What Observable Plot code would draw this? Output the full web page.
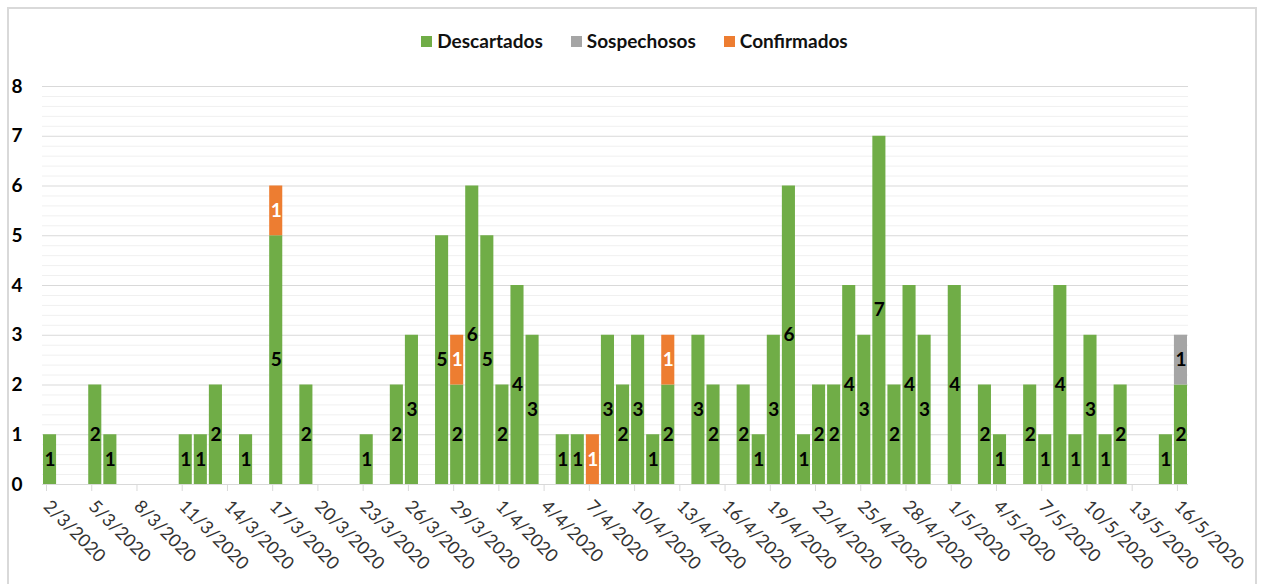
<!DOCTYPE html>
<html><head><meta charset="utf-8">
<script src="https://cdn.jsdelivr.net/npm/d3@7"></script>
<script src="https://cdn.jsdelivr.net/npm/@observablehq/plot@0.6"></script>
<style>
body{margin:0;background:#fff;font-family:Lato,sans-serif;}
#wrap{position:relative;width:1261px;height:584px;overflow:hidden;}
#frame{position:absolute;left:7px;top:7px;width:1250px;height:620px;border:2px solid #d9d9d9;box-sizing:border-box;pointer-events:none;}
#legend{position:absolute;top:30px;left:0;width:1269px;display:flex;justify-content:center;gap:28px;font-weight:bold;font-size:19px;color:#111;line-height:22px;}
#legend span.item{display:flex;align-items:center;}
#legend span.sw{display:inline-block;width:11px;height:11px;margin-right:5px;}
#chart{position:absolute;left:0;top:0;}
</style></head>
<body>
<div id="wrap"><div id="chart"></div><div id="legend"></div><div id="frame"></div></div>
<script>
const series = ["Descartados", "Sospechosos", "Confirmados"];
const colors = ["#70AD47", "#A5A5A5", "#ED7D31"];

const descDates = ["2/3/2020","5/3/2020","6/3/2020","11/3/2020","12/3/2020","13/3/2020","15/3/2020","17/3/2020","19/3/2020","23/3/2020","25/3/2020","26/3/2020","28/3/2020","29/3/2020","30/3/2020","31/3/2020","1/4/2020","2/4/2020","3/4/2020","5/4/2020","6/4/2020","8/4/2020","9/4/2020","10/4/2020","11/4/2020","12/4/2020","14/4/2020","15/4/2020","17/4/2020","18/4/2020","19/4/2020","20/4/2020","21/4/2020","22/4/2020","23/4/2020","24/4/2020","25/4/2020","26/4/2020","27/4/2020","28/4/2020","29/4/2020","1/5/2020","3/5/2020","4/5/2020","6/5/2020","7/5/2020","8/5/2020","9/5/2020","10/5/2020","11/5/2020","12/5/2020","15/5/2020","16/5/2020"];
const descValues = [1,2,1,1,1,2,1,5,2,1,2,3,5,2,6,5,2,4,3,1,1,3,2,3,1,2,3,2,2,1,3,6,1,2,2,4,3,7,2,4,3,4,2,1,2,1,4,1,3,1,2,1,2];

const sospDates = ["16/5/2020"];
const sospValues = [1];

const confDates = ["17/3/2020","29/3/2020","7/4/2020","12/4/2020"];
const confValues = [1,1,1,1];

const tickLabels = ["2/3/2020","5/3/2020","8/3/2020","11/3/2020","14/3/2020","17/3/2020","20/3/2020","23/3/2020","26/3/2020","29/3/2020","1/4/2020","4/4/2020","7/4/2020","10/4/2020","13/4/2020","16/4/2020","19/4/2020","22/4/2020","25/4/2020","28/4/2020","1/5/2020","4/5/2020","7/5/2020","10/5/2020","13/5/2020","16/5/2020"];
const yTicks = [0,1,2,3,4,5,6,7,8];

const parse = d3.utcParse("%d/%m/%Y");
const rows = [];
descDates.forEach((d,i) => rows.push({date: parse(d), series: "Descartados", value: descValues[i]}));
sospDates.forEach((d,i) => rows.push({date: parse(d), series: "Sospechosos", value: sospValues[i]}));
confDates.forEach((d,i) => rows.push({date: parse(d), series: "Confirmados", value: confValues[i]}));

const tickDates = tickLabels.map(parse);
const xDomain = [tickDates[0], d3.utcDay.offset(tickDates[tickDates.length - 1], 1)];
const minor = d3.range(1, 41).map(i => i / 5).filter(v => Math.abs(v - Math.round(v)) > 1e-6);
const fmt = d3.utcFormat("%-d/%-m/%Y");

const chart = Plot.plot({
  width: 1261, height: 584,
  marginLeft: 42, marginRight: 73, marginTop: 86, marginBottom: 100,
  style: {fontFamily: "Lato, sans-serif", background: "transparent", overflow: "visible"},
  x: {type: "utc", domain: xDomain},
  y: {domain: [0, 8]},
  color: {domain: series, range: colors},
  marks: [
    Plot.ruleY(minor, {stroke: "#f0f0f0", strokeWidth: 1}),
    Plot.ruleY(yTicks.slice(1), {stroke: "#d9d9d9", strokeWidth: 1.2}),
    Plot.rectY(rows, {x: "date", interval: "day", y: "value", fill: "series", order: series, insetLeft: 1, insetRight: 1}),
    Plot.text(rows, Plot.stackY({
      x: d => d3.utcHour.offset(d.date, 12), y: "value", z: "series", order: series,
      text: "value",
      fill: d => d.series === "Confirmados" ? "#ffffff" : "#000000",
      fontWeight: "bold", fontSize: 19
    })),
    Plot.ruleY([0], {stroke: "#d9d9d9", strokeWidth: 1.2}),
    Plot.axisX({ticks: tickDates, tickSize: 7, stroke: "#d9d9d9", fill: "#333", tickFormat: fmt,
      tickRotate: 45, fontSize: 18, tickPadding: 12, dx: 4, label: null}),
    Plot.axisY({ticks: yTicks, tickSize: 0, tickPadding: 20, fontWeight: "bold", fontSize: 19, fill: "#000", label: null})
  ]
});
document.getElementById("chart").appendChild(chart);

const legend = document.getElementById("legend");
series.forEach((s, i) => {
  const item = document.createElement("span");
  item.className = "item";
  const sw = document.createElement("span");
  sw.className = "sw";
  sw.style.background = colors[i];
  item.appendChild(sw);
  item.appendChild(document.createTextNode(s));
  legend.appendChild(item);
});
</script>
</body></html>
